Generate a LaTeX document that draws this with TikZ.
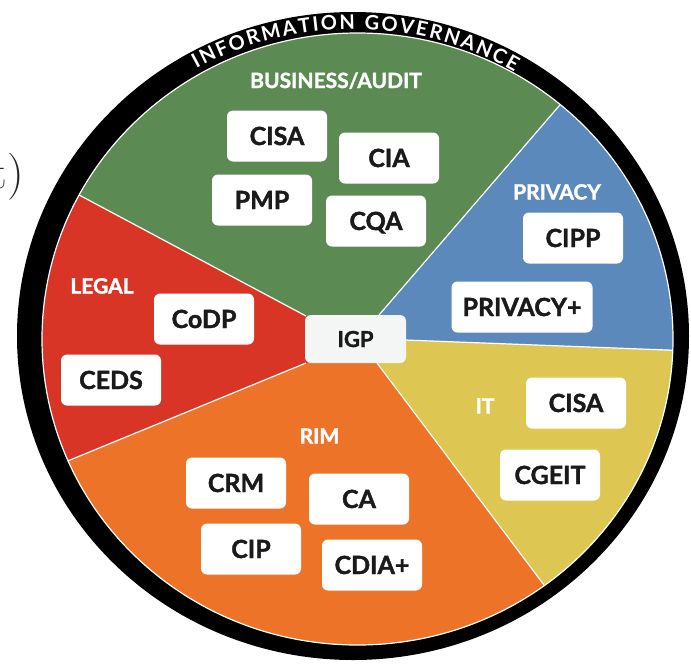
\documentclass[tikz,border=0pt]{standalone}
\usepackage{fontspec}
\newfontfamily\certfont[BoldFeatures={FakeBold=1.5}]{Lato}
\newfontfamily\ringfont{Lato}
\usetikzlibrary{calc,decorations.text}
\definecolor{bizgreen}{HTML}{5B8A52}
\definecolor{legalred}{HTML}{D93526}
\definecolor{privblue}{HTML}{5B89BC}
\definecolor{ityellow}{HTML}{DEC653}
\definecolor{rimorange}{HTML}{EC7327}
\definecolor{igpgray}{HTML}{F4F6F5}
\definecolor{certtext}{HTML}{1A1A1A}
\newcommand\ringstyle{\ringfont\bfseries\fontsize{20}{20}\selectfont}
\tikzset{
  cert/.style={fill=white, rounded corners=6pt, minimum width=100pt, minimum height=51pt,
    inner sep=0pt, text height=18pt, text depth=0pt, text=certtext,
    font=\certfont\bfseries\fontsize{25}{25}\selectfont},
  area/.style={text=white, inner sep=0pt, text height=15pt, text depth=0pt,
    font=\certfont\bfseries\fontsize{21}{21}\selectfont},
  divider/.style={white, line width=1.2pt},
}

\begin{document}
\begin{tikzpicture}[x=1pt,y=1pt]
\useasboundingbox[fill=white] (0,0) rectangle (691,-665);
\node[anchor=base east, inner sep=0pt, font=\fontsize{47}{47}\selectfont, text=black!85] (cut) at (24,-188) {t)};
% ring
\fill[black] (353,-336) ellipse [x radius=336, y radius=324];
\path[decorate, decoration={text along path, text={|\ringstyle|INFORMATION GOVERNANCE},
    text align={fit to path}, text color=white}]
  (353,-336) ++(119.5:318 and 307) arc [start angle=119.5, end angle=59.5, x radius=318, y radius=307];
% pie
\begin{scope}
  \clip (357.5,-339) ellipse [x radius=315.5, y radius=306];
  \coordinate (o) at (355,-339);
  \coordinate (gr) at (306,-316);
  \coordinate (gb) at (379,-315);
  \coordinate (by) at (405,-340);
  \coordinate (yo) at (377,-363);
  \coordinate (or) at (306,-363);
  \coordinate (grx) at ($(gr)!2!(81,-196)$);
  \coordinate (gbx) at ($(gb)!2!(559,-106)$);
  \coordinate (byx) at ($(by)!2!(667,-350)$);
  \coordinate (yox) at ($(yo)!2!(544,-585)$);
  \coordinate (orx) at ($(or)!2!(70,-460)$);
  \fill[bizgreen] (o) -- (gr) -- (grx) -- (-200,150) -- (950,150) -- (gbx) -- (gb) -- cycle;
  \fill[privblue] (o) -- (gb) -- (gbx) -- (950,150) -- (byx) -- (by) -- cycle;
  \fill[ityellow] (o) -- (by) -- (byx) -- (950,-850) -- (yox) -- (yo) -- cycle;
  \fill[rimorange] (o) -- (yo) -- (yox) -- (-200,-850) -- (orx) -- (or) -- cycle;
  \fill[legalred] (o) -- (or) -- (orx) -- (grx) -- (gr) -- cycle;
  \foreach \a in {gr,gb,by,yo,or}
    \draw[divider] (\a) -- (\a x);
\end{scope}
\draw[white, line width=1.2pt] (357.5,-339) ellipse [x radius=315.5, y radius=306];
% centre
\node[fill=igpgray, rounded corners=6pt, minimum width=101pt, minimum height=48pt, inner sep=0pt,
  text height=16pt, text depth=0pt, text=certtext, font=\certfont\bfseries\fontsize{22}{22}\selectfont]
  (igp) at (355.5,-339) {IGP};
% sector titles
\node[area] (biz) at (336,-80.5) {BUSINESS/AUDIT};
\node[area] (priv) at (557,-192) {PRIVACY};
\node[area] (legal) at (102,-286) {LEGAL};
\node[area] (it) at (485,-406) {IT};
\node[area] (rim) at (319.5,-436) {RIM};
% certifications
\node[cert] (bizcisa) at (277,-136) {CISA};
\node[cert] (bizcia) at (389,-158) {CIA};
\node[cert] (bizpmp) at (262,-200) {PMP};
\node[cert] (bizcqa) at (376,-221) {CQA};
\node[cert] (privcipp) at (573,-238) {CIPP};
\node[cert, minimum width=141pt] (privplus) at (522,-307) {PRIVACY+};
\node[cert] (legcodp) at (204,-319) {CoDP};
\node[cert] (legceds) at (111,-380) {CEDS};
\node[cert] (itcisa) at (576,-403) {CISA};
\node[cert] (itcgeit) at (550,-475) {CGEIT};
\node[cert] (rimcrm) at (236,-483) {CRM};
\node[cert] (rimca) at (359,-499) {CA};
\node[cert] (rimcip) at (251,-549) {CIP};
\node[cert] (rimcdia) at (372,-565) {CDIA+};
\end{tikzpicture}
\end{document}
